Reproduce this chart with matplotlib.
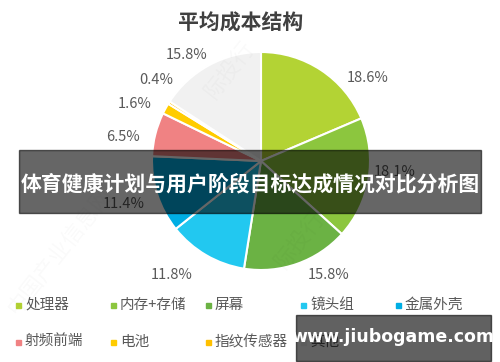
import matplotlib

matplotlib.use("Agg")
import matplotlib.pyplot as plt
from matplotlib.patches import Rectangle

plt.rcParams["font.family"] = ["Noto Sans CJK SC", "DejaVu Sans"]

# data
categories = ["处理器", "内存+存储", "屏幕", "镜头组", "金属外壳", "射频前端", "电池", "指纹传感器", "其他"]
shares = [18.6, 18.1, 15.8, 11.8, 11.4, 6.5, 1.6, 0.4, 15.8]
colors = ["#b3d334", "#8cc63e", "#6bb244", "#22c8f0", "#00aee4", "#f08283", "#ffcc00", "#ffc000", "#f1f1f1"]

TITLE = "平均成本结构"
BANNER = "体育健康计划与用户阶段目标达成情况对比分析图"
SITE = "www.jiubogame.com"

W, H = 500, 362
INK = "#595959"

# layout (pixel positions of the percent labels, relative to pie centre)
label_offsets = [(107, 83), (134, -11), (68, -114), (-89, -114), (-137, -43),
                 (-138, 24), (-126, 57), (-105, 81), (-74, 106)]
cx, cy, r = 261, 161, 109

fig = plt.figure(figsize=(W / 100, H / 100), dpi=100, facecolor="white")

# pixel-space overlay axes
canvas = fig.add_axes([0, 0, 1, 1])
canvas.set_xlim(0, W)
canvas.set_ylim(H, 0)
canvas.axis("off")

pie_ax = fig.add_axes([(cx - r) / W, (H - cy - r) / H, 2 * r / W, 2 * r / H])
pie_ax.pie(shares, colors=colors, startangle=90, counterclock=False, radius=1,
           wedgeprops=dict(edgecolor="white", linewidth=1.5))
pie_ax.set_xlim(-1, 1)
pie_ax.set_ylim(-1, 1)
pie_ax.axis("off")

canvas.set_zorder(pie_ax.get_zorder() + 1)
canvas.patch.set_visible(False)

# faint diagonal watermarks
for x, y, txt in [(60, 250, "中国产业信息网"), (230, 70, "际投行"), (300, 240, "际投行")]:
    canvas.text(x, y, txt, rotation=52, color="#000000", alpha=0.025,
                fontsize=16, ha="center", va="center")

canvas.text(241, 23, TITLE, fontsize=15, fontweight="bold", color="#404040",
            ha="center", va="center")

for share, (dx, dy) in zip(shares, label_offsets):
    canvas.text(cx + dx, cy - dy, f"{share:.1f}%", fontsize=10.5, color=INK,
                ha="center", va="center")

# legend, two rows of five
col_x = [16, 111, 206, 301, 396]
row_y = [305, 342]
for i, (name, col) in enumerate(zip(categories, colors)):
    x, y = col_x[i % 5], row_y[i // 5]
    canvas.add_patch(Rectangle((x, y - 2.5), 5, 5, color=col))
    canvas.text(x + 9, y, name, fontsize=10.5, color=INK, ha="left", va="center")

# dark banner over the middle
canvas.add_patch(Rectangle((19, 150), 462, 63, color="black", alpha=0.6, zorder=5))
canvas.text(250, 184, BANNER, fontsize=15, fontweight="bold", color="white",
            ha="center", va="center", zorder=6)

# site box bottom right
canvas.add_patch(Rectangle((296, 315), 195, 46, color="black", alpha=0.62, zorder=5))
canvas.text(393, 337, SITE, fontsize=12.5, fontweight="bold", color="white",
            ha="center", va="center", zorder=6, family="DejaVu Sans")

fig.savefig("out.png", dpi=100, facecolor="white")
